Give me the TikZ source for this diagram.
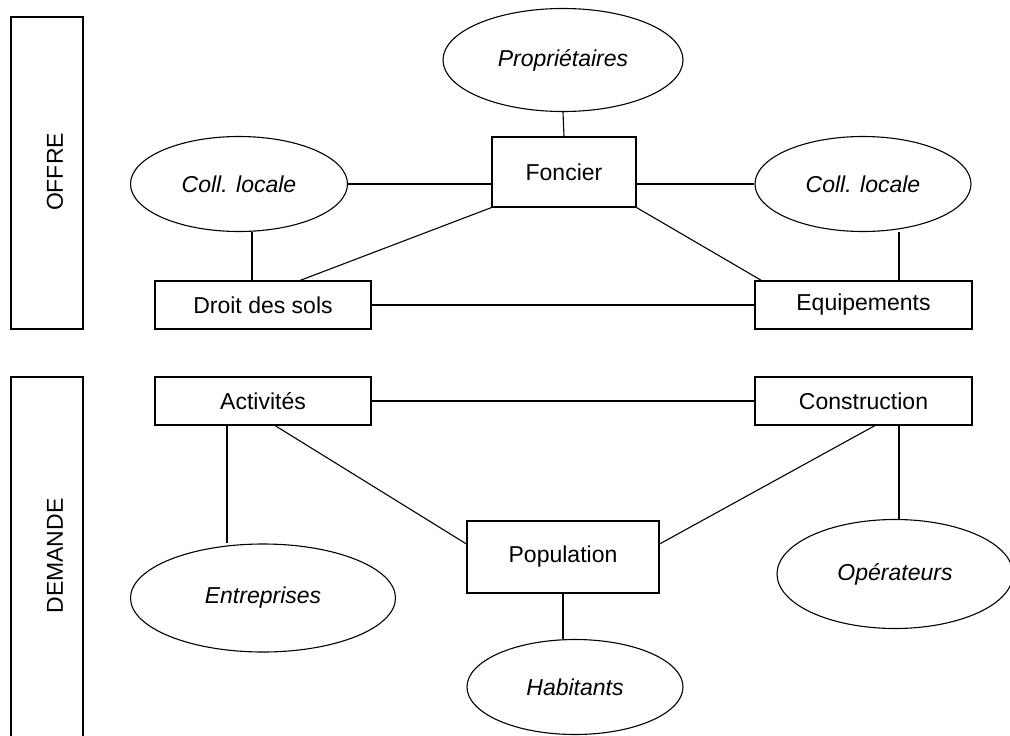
\documentclass[tikz,border=0pt]{standalone}
\usepackage{fontspec}
\setmainfont{Liberation Sans}
\usetikzlibrary{shapes.geometric}

\begin{document}
\begin{tikzpicture}[x=1pt, y=-1pt,
    box/.style={draw, line width=1.1pt, inner sep=0pt, font=\fontsize{23}{27}\selectfont},
    oval/.style={draw, ellipse, line width=1.1pt, inner sep=0pt, font=\fontsize{23}{27}\selectfont\itshape},
    bartext/.style={rotate=90, inner sep=0pt, font=\fontsize{23}{27}\selectfont},
    link/.style={line width=1.1pt}]
    \useasboundingbox (0,0) rectangle (1010,736);

    % Side bars
    \draw[link] (11,17) rectangle (83,329);
    \node[bartext] (offre) at (55,172) {OFFRE};
    \draw[link] (11,377) rectangle (83,750);
    \node[bartext] (demande) at (55,556) {DEMANDE};

    % Offre
    \node[oval, minimum width=240pt, minimum height=103pt] (prop) at (563,60) {Propri\'etaires};
    \node[box, minimum width=144pt, minimum height=70pt] (foncier) at (564,172) {Foncier};
    \node[oval, minimum width=217pt, minimum height=95pt] (coll1) at (239,184) {Coll. locale};
    \node[oval, minimum width=216pt, minimum height=95pt] (coll2) at (863,184) {Coll. locale};
    \node[box, minimum width=216pt, minimum height=48pt] (droit) at (263,305) {Droit des sols};
    \node[box, minimum width=217pt, minimum height=48pt] (equip) at (863.5,305) {Equipements};

    \draw[link] (prop.south) -- (foncier.north);
    \draw[link] (coll1.east) -- (coll1.east -| foncier.west);
    \draw[link] (coll2.west -| foncier.east) -- (coll2.west);
    \draw[link] ([xshift=13pt]coll1.south) -- ([xshift=-11pt]droit.north);
    \draw[link] ([xshift=35.5pt]equip.north) -- ([xshift=35.5pt]equip.north |- coll2.south);
    \draw[link] ([xshift=37pt]droit.north) -- (foncier.south west);
    \draw[link] (foncier.south east) -- ([xshift=7pt]equip.north west);
    \draw[link] (droit.east) -- (equip.west);

    % Demande
    \node[box, minimum width=216pt, minimum height=48pt] (act) at (263,401) {Activit\'es};
    \node[box, minimum width=217pt, minimum height=48pt] (cons) at (863.5,401) {Construction};
    \node[box, minimum width=192pt, minimum height=72pt] (pop) at (563,557) {Population};
    \node[oval, minimum width=265pt, minimum height=108pt] (ent) at (263,598) {Entreprises};
    \node[oval, minimum width=236pt, minimum height=109pt] (op) at (895,574) {Op\'erateurs};
    \node[oval, minimum width=216pt, minimum height=95pt] (hab) at (575,687) {Habitants};

    \draw[link] (act.east) -- (cons.west);
    \draw[link] ([xshift=-36pt]act.south) -- ([xshift=-36pt]act.south |- ent.north);
    \draw[link] ([xshift=12pt]act.south) -- ([yshift=13pt]pop.west);
    \draw[link] ([xshift=11.5pt]cons.south) -- ([yshift=13pt]pop.east);
    \draw[link] ([xshift=35.5pt]cons.south) -- ([xshift=4pt]op.north);
    \draw[link] (pop.south) -- ([xshift=-12pt]hab.north);
\end{tikzpicture}
\end{document}
